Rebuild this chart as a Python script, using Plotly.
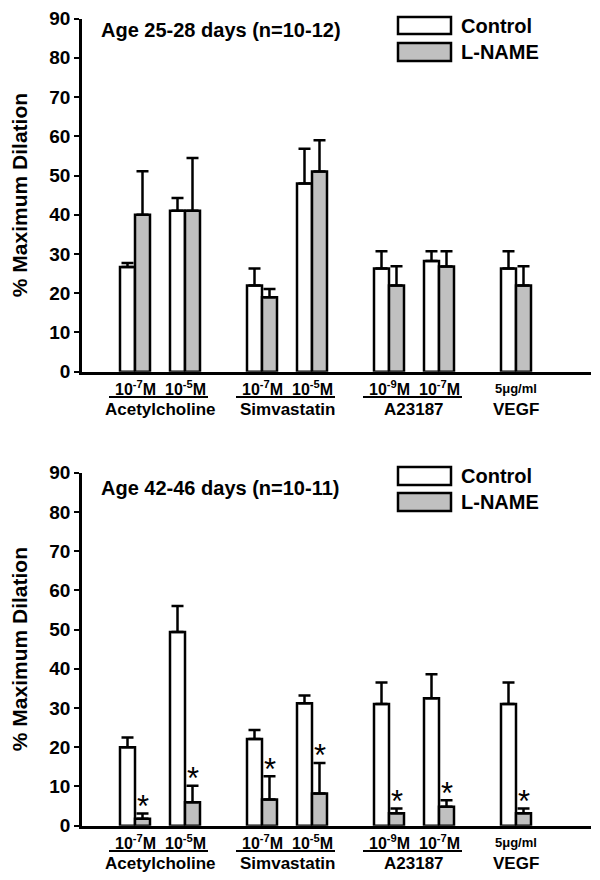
import plotly.graph_objects as go

# ---- data ----
agents = ["Acetylcholine", "Simvastatin", "A23187", "VEGF"]
doses = ["10<sup>-7</sup>M", "10<sup>-5</sup>M",
         "10<sup>-7</sup>M", "10<sup>-5</sup>M",
         "10<sup>-9</sup>M", "10<sup>-7</sup>M",
         "5μg/ml"]
dose_agent = [0, 0, 1, 1, 2, 2, 3]

young_control = [26.7, 41.0, 22.0, 48.0, 26.3, 28.2, 26.3]
young_control_sem = [1.0, 3.3, 4.3, 8.8, 4.4, 2.5, 4.4]
young_lname = [40.0, 41.0, 19.0, 51.0, 22.0, 26.8, 22.0]
young_lname_sem = [11.1, 13.5, 2.1, 8.0, 4.9, 3.9, 4.9]

old_control = [20.0, 49.4, 22.1, 31.2, 31.0, 32.5, 31.0]
old_control_sem = [2.5, 6.6, 2.3, 2.0, 5.5, 6.1, 5.5]
old_lname = [1.8, 6.0, 6.7, 8.2, 3.2, 4.8, 3.2]
old_lname_sem = [1.3, 4.2, 5.9, 7.8, 1.2, 1.7, 1.2]
old_sig = [True, True, True, True, True, True, True]

panel_titles = ["Age 25-28 days (n=10-12)", "Age 42-46 days (n=10-11)"]
series_names = ["Control", "L-NAME"]

W, H = 600, 880
OFF = 8  # default body margin of the html page
FONT = "Arial, Liberation Sans, sans-serif"
GREY = "#c0c0c0"

# x positions: 1 unit between doses of one agent, wider gap between agents
pos = []
x = 0.0
for i, a in enumerate(dose_agent):
    if i > 0:
        x += 1.0 if a == dose_agent[i - 1] else 1.54
    pos.append(x)


def py(px):
    return 1 - (px - OFF) / H


def px_x(px):
    return (px - OFF) / W


def label(fig, text, x, y, size, xref="paper", xanchor="center", angle=0, bold=True):
    fig.add_annotation(x=x, y=y, xref=xref, yref="paper", xanchor=xanchor,
                       yanchor="middle", textangle=angle, showarrow=False,
                       text=f"<b>{text}</b>" if bold else text,
                       font=dict(size=size, color="black", family=FONT))


fig = go.Figure()

panels = [
    (young_control, young_control_sem, young_lname, young_lname_sem, None),
    (old_control, old_control_sem, old_lname, old_lname_sem, old_sig),
]
# pixel rows of the 90 / 0 ticks for each panel
panel_px = [(18.6, 371.7), (472.7, 825.7)]
title_px = [30, 488]
legend_px = [[(17, 34), (43, 61)], [(467, 485), (493, 511)]]

for k, (ctl, ctl_sem, ln, ln_sem, sig) in enumerate(panels):
    xa = "x" if k == 0 else "x2"
    ya = "y" if k == 0 else "y2"
    for name, vals, sem, fill in [(series_names[0], ctl, ctl_sem, "white"),
                                  (series_names[1], ln, ln_sem, GREY)]:
        fig.add_trace(go.Bar(
            x=pos, y=vals, name=name, xaxis=xa, yaxis=ya, showlegend=False,
            marker=dict(color=fill, line=dict(color="black", width=2.5)),
            error_y=dict(type="data", symmetric=False, array=sem,
                         arrayminus=[0] * len(sem), color="black",
                         thickness=2.5, width=6),
        ))
    if sig:
        for p, v, s, flag in zip(pos, ln, ln_sem, sig):
            if flag:
                fig.add_annotation(x=p + 0.15, y=v + s, xref=xa, yref=ya,
                                   text="*", showarrow=False, yanchor="middle",
                                   yshift=7, font=dict(size=31, color="black",
                                                       family=FONT))

    top, bot = panel_px[k]
    off = bot - 371.7
    # dose labels and agent labels under the axis
    for p, d in zip(pos, doses):
        label(fig, d, p, py(388 + off), 13 if "g/ml" in d else 16, xref=xa)
    for ai, a in enumerate(agents):
        ps = [p for p, g in zip(pos, dose_agent) if g == ai]
        label(fig, a, sum(ps) / len(ps), py(409 + off), 17, xref=xa)
        if len(ps) > 1:
            fig.add_shape(type="line", xref=xa, yref="paper",
                          x0=ps[0] - 0.52, x1=ps[-1] + 0.46,
                          y0=py(397 + off), y1=py(397 + off),
                          line=dict(color="black", width=2))

    label(fig, panel_titles[k], px_x(99), py(title_px[k]), 20, xanchor="left")
    label(fig, "% Maximum Dilation", px_x(19), py((top + bot) / 2), 21, angle=-90)

    # legend boxes
    for (y0, y1), name, fill in zip(legend_px[k], series_names, ["white", GREY]):
        fig.add_shape(type="rect", xref="paper", yref="paper",
                      x0=px_x(398), x1=px_x(451), y0=py(y1), y1=py(y0),
                      fillcolor=fill, line=dict(color="black", width=2.5))
        label(fig, name, px_x(459), py((y0 + y1) / 2), 20, xanchor="left")

xaxis_common = dict(range=[-1.06, 9.12], showline=True, linecolor="black", linewidth=2.5,
                    showticklabels=False, ticks="", showgrid=False, zeroline=False,
                    domain=[px_x(82), px_x(591)], automargin=False)
yaxis_common = dict(range=[0, 90], dtick=10, showline=True, linecolor="black",
                    linewidth=2.5, ticks="outside", ticklen=5, tickwidth=2,
                    tickcolor="black", showgrid=False, zeroline=False, automargin=False,
                    tickfont=dict(size=19, color="black", family=FONT, weight="bold"))

fig.update_layout(
    width=W, height=H, margin=dict(l=0, r=0, t=0, b=0),
    template="none", plot_bgcolor="white", paper_bgcolor="white",
    barmode="group", bargap=0.4, bargroupgap=0,
    font=dict(family=FONT, color="black"),
    xaxis=dict(anchor="y", **xaxis_common),
    xaxis2=dict(anchor="y2", **xaxis_common),
    yaxis=dict(anchor="x", domain=[py(371.7), py(18.6)], **yaxis_common),
    yaxis2=dict(anchor="x2", domain=[py(825.7), py(472.7)], **yaxis_common),
)

fig.write_html("out.html")
